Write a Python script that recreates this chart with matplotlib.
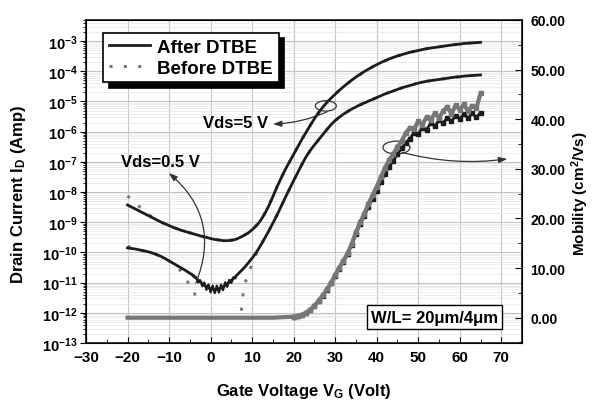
import matplotlib
matplotlib.use('Agg')
import matplotlib.pyplot as plt
import numpy as np
from matplotlib.patches import Ellipse
from matplotlib.ticker import LogLocator, FuncFormatter, MultipleLocator, NullFormatter, FormatStrFormatter

plt.rcParams['font.family'] = ['Liberation Sans', 'DejaVu Sans']
plt.rcParams['font.weight'] = 'bold'
plt.rcParams['mathtext.fontset'] = 'custom'
plt.rcParams['mathtext.rm'] = 'Liberation Sans:bold'
plt.rcParams['mathtext.bf'] = 'Liberation Sans:bold'
plt.rcParams['mathtext.it'] = 'Liberation Sans:bold'

# gate voltage sweep (V), 1 V steps
vg = np.arange(-20, 66, 1)

# log10 of drain current, after DTBE
log_id_after_5v = [
    -8.43, -8.50, -8.57, -8.64, -8.71, -8.78, -8.85, -8.92, -8.99, -9.05,
    -9.11, -9.17, -9.22, -9.27, -9.31, -9.35, -9.39, -9.43, -9.47, -9.50,
    -9.54, -9.57, -9.59, -9.61, -9.61, -9.60, -9.57, -9.51, -9.44, -9.36,
    -9.25, -9.12, -8.95, -8.73, -8.46, -8.15, -7.83, -7.53, -7.25, -7.00,
    -6.75, -6.50, -6.25, -6.02, -5.79, -5.57, -5.37, -5.19, -5.03, -4.89,
    -4.76, -4.63, -4.51, -4.40, -4.29, -4.19, -4.10, -4.01, -3.93, -3.85,
    -3.78, -3.71, -3.65, -3.59, -3.54, -3.49, -3.45, -3.41, -3.37, -3.34,
    -3.31, -3.28, -3.25, -3.23, -3.21, -3.19, -3.17, -3.15, -3.13, -3.11,
    -3.10, -3.08, -3.07, -3.06, -3.05, -3.04]
log_id_after_05v = [
    -9.85, -9.87, -9.89, -9.92, -9.95, -9.98, -10.02, -10.07, -10.13, -10.20,
    -10.28, -10.36, -10.44, -10.52, -10.60, -10.69, -10.78, -10.92, -11.03, -11.13,
    -11.20, -11.23, -11.21, -11.14, -11.04, -10.93, -10.80, -10.66, -10.52, -10.36,
    -10.19, -10.00, -9.78, -9.54, -9.29, -9.03, -8.76, -8.47, -8.18, -7.90,
    -7.62, -7.35, -7.08, -6.83, -6.62, -6.44, -6.27, -6.10, -5.93, -5.77,
    -5.63, -5.52, -5.42, -5.33, -5.25, -5.18, -5.11, -5.05, -4.99, -4.93,
    -4.87, -4.81, -4.75, -4.70, -4.65, -4.60, -4.55, -4.51, -4.47, -4.43,
    -4.39, -4.36, -4.33, -4.31, -4.29, -4.27, -4.25, -4.23, -4.21, -4.19,
    -4.18, -4.16, -4.15, -4.14, -4.13, -4.12]

# noisy stretch near the minimum of the Vds=0.5 V curve
vg_noise = [-4.5, -4.0, -3.5, -3.0, -2.5, -2.0, -1.5, -1.0, -0.5, 0.0, 0.5,
            1.0, 1.5, 2.0, 2.5, 3.0, 3.5, 4.0, 4.5, 5.0, 5.5, 6.0]
log_id_noise = [-10.72, -10.82, -10.82, -10.99, -10.92, -11.12, -11.00, -11.24,
                -11.06, -11.32, -11.10, -11.35, -11.10, -11.33, -11.07, -11.25,
                -10.99, -11.14, -10.91, -11.01, -10.82, -10.85]

# before DTBE
vg_before_5v = np.arange(-20, 66, 2)
log_id_before_5v = [
    -8.13, -8.38, -8.62, -8.84, -8.99, -9.11, -9.22, -9.31, -9.39, -9.47,
    -9.54, -9.59, -9.61, -9.57, -9.44, -9.25, -8.95, -8.46, -7.83, -7.25,
    -6.75, -6.25, -5.79, -5.37, -5.03, -4.76, -4.51, -4.29, -4.10, -3.93,
    -3.78, -3.65, -3.54, -3.45, -3.37, -3.31, -3.25, -3.21, -3.17, -3.13,
    -3.10, -3.07, -3.05]
vg_before_05v = [-20, -18, -16, -14, -12, -10, -8, -5.8, -4.2, -3.8, -3.55,
                 2, 7.4, 7.7, 8.2, 9.4, 10.7, 12, 14, 16, 18, 20, 22, 24, 26,
                 28, 30, 32, 34, 36, 38, 40, 42, 44, 46, 48, 50, 52, 54, 56,
                 58, 60, 62, 64]
log_id_before_05v = [
    -9.80, -9.88, -9.95, -10.02, -10.13, -10.28, -10.44, -10.94, -11.16, -11.38,
    -11.60, np.nan, -11.93, -11.49, -11.05, -10.60, -10.12, -9.78, -9.29, -8.76,
    -8.18, -7.62, -7.08, -6.62, -6.27, -5.93, -5.63, -5.42, -5.25, -5.11,
    -4.99, -4.87, -4.75, -4.65, -4.55, -4.47, -4.39, -4.33, -4.29, -4.25,
    -4.21, -4.18, -4.15, -4.13]

# field-effect mobility (cm2/Vs)
vg_mob = [-20, -15, -10, -5, 0, 5, 10, 15, 20, 21, 22, 23, 24, 25, 26, 27, 28,
          29, 30, 31, 32, 33, 34, 35, 36, 37, 38, 39, 40, 41, 42, 43, 44, 45,
          46, 47, 48, 49, 50, 51, 52, 53, 54, 55, 56, 57, 58, 59, 60, 61, 62,
          63, 64, 65]
mob_after = [0, 0, 0, 0, 0, 0, 0, 0,
             0.2, 0.35, 0.6, 1.0, 1.5, 2.3, 3.3, 4.4, 5.6, 6.9,
             8.4, 9.9, 11.3, 12.8, 14.6, 16.8, 18.8, 20.4, 22.3, 24.0,
             25.6, 27.3, 29.0, 30.4, 31.6, 33.0, 34.1, 35.3, 36.1, 37.3,
             37.0, 38.3, 37.9, 39.2, 38.6, 39.8, 39.2, 40.3, 39.6, 40.7,
             40.1, 41.0, 40.2, 41.2, 40.4, 41.3]
mob_before = [0, 0, 0, 0, 0, 0, 0, 0,
              0.2, 0.35, 0.6, 1.0, 1.6, 2.4, 3.4, 4.5, 5.7, 7.0,
              8.6, 10.1, 11.5, 13.0, 14.9, 17.2, 19.2, 20.9, 22.9, 24.7,
              26.4, 28.3, 30.2, 31.8, 33.0, 34.4, 35.6, 37.2, 38.3, 38.0,
              39.6, 38.9, 40.4, 39.8, 41.2, 40.3, 41.6, 42.5, 41.1, 42.8,
              41.9, 43.0, 41.6, 42.7, 42.2, 45.2]

dark = '#1c1c1c'
grey = '#777777'

fig = plt.figure(figsize=(5.92, 4.02), dpi=100)
ax = fig.add_axes([0.1453, 0.1443, 0.7365, 0.8035])
ax2 = ax.twinx()

# drain current
dots = (0, (1, 3.7))
lb, = ax.plot(vg_before_5v, 10.0 ** np.array(log_id_before_5v), color=grey, lw=2.2, ls=dots,
              label='Before DTBE')
ax.plot(vg_before_05v, 10.0 ** np.array(log_id_before_05v), color=grey, lw=2.2, ls=dots)
la, = ax.plot(vg, 10.0 ** np.array(log_id_after_5v), color=dark, lw=2, label='After DTBE')
ax.plot(vg, 10.0 ** np.array(log_id_after_05v), color=dark, lw=2)
ax.plot(vg_noise, 10.0 ** np.array(log_id_noise), color=dark, lw=1.6)

ax.set_yscale('log')
ax.set_xlim(-30, 75)
ax.set_ylim(1e-13, 10 ** -2.3)
ax.xaxis.set_major_locator(MultipleLocator(10))
ax.xaxis.set_minor_locator(MultipleLocator(5))
ax.yaxis.set_major_locator(LogLocator(base=10, numticks=20))
ax.yaxis.set_minor_locator(LogLocator(base=10, subs=np.arange(2, 10), numticks=20))
ax.yaxis.set_minor_formatter(NullFormatter())
ax.yaxis.set_major_formatter(FuncFormatter(lambda v, p: r'$\mathbf{10^{%d}}$' % round(np.log10(v))))
ax.tick_params(axis='x', which='both', direction='in', labelsize=11, pad=5)
ax.tick_params(axis='x', which='major', length=4)
ax.tick_params(axis='x', which='minor', length=3)
ax.tick_params(axis='y', which='major', direction='out', length=4, labelsize=10.5, pad=2)
ax.tick_params(axis='y', which='minor', direction='out', length=2.5)
ax.grid(True, which='major', axis='both', color='#c4c4c4', lw=0.8)
ax.grid(True, which='minor', axis='y', color='#e6e6e6', lw=0.5)
ax.set_axisbelow(True)
for s in ax.spines.values():
    s.set_linewidth(1.1)

ax.set_xlabel('Gate Voltage V$_\\mathbf{G}$ (Volt)', fontsize=12, fontweight='bold')
ax.xaxis.set_label_coords(0.5, -0.118)
ax.set_ylabel('Drain Current I$_\\mathbf{D}$ (Amp)', fontsize=12, fontweight='bold')
ax.yaxis.set_label_coords(-0.132, 0.464)

# mobility: thick line for the flat part, squares where it rises
ax2.plot(vg_mob, mob_after, color=dark, lw=2, marker='s', ms=3.2, mec=dark,
         markevery=slice(8, None))
ax2.plot(vg_mob, mob_before, color=grey, lw=3, marker='s', ms=3.2, mec=grey,
         markevery=slice(8, None))
ax2.set_ylim(-5.1, 60)
ax2.yaxis.set_major_locator(MultipleLocator(10))
ax2.yaxis.set_minor_locator(MultipleLocator(5))
ax2.yaxis.set_major_formatter(FormatStrFormatter('%.2f'))
ax2.tick_params(axis='y', which='major', direction='in', length=5, labelsize=10, pad=6)
ax2.tick_params(axis='y', which='minor', direction='in', length=3)
ax2.set_ylabel('Mobility (cm$^\\mathbf{2}$/Vs)', fontsize=11, fontweight='bold')
ax2.yaxis.set_label_coords(1.108, 0.464)

leg = ax.legend(handles=[la, lb], loc='upper left', bbox_to_anchor=(0.039, 0.960),
                borderaxespad=0, fontsize=13.5, frameon=True, fancybox=False,
                shadow={'color': 'black', 'alpha': 1, 'ox': 4, 'oy': -4},
                handlelength=2.2, handletextpad=0.4, labelspacing=0.2, borderpad=0.3)
leg.get_frame().set_edgecolor('black')
leg.get_frame().set_linewidth(1.2)
leg.get_frame().set_alpha(1)

# annotations
tr = ax2.transAxes
ax2.text(0.344, 0.684, 'Vds=5 V', transform=tr, fontsize=12, fontweight='bold',
         ha='center', va='center')
ax2.add_patch(Ellipse((0.550, 0.734), 0.048, 0.032, transform=tr, fill=False,
                      ec='#333333', lw=0.9))
ax2.annotate('', xy=(0.429, 0.678), xytext=(0.553, 0.716), xycoords=tr, textcoords=tr,
             arrowprops=dict(arrowstyle='-|>,head_length=0.5,head_width=0.18', color='#333333',
                             lw=0.9, connectionstyle='arc3,rad=-0.1', shrinkA=0, shrinkB=0))

ax2.text(0.170, 0.563, 'Vds=0.5 V', transform=tr, fontsize=12, fontweight='bold',
         ha='center', va='center')
ax2.annotate('', xy=(0.190, 0.526), xytext=(0.252, 0.186), xycoords=tr, textcoords=tr,
             arrowprops=dict(arrowstyle='-|>,head_length=0.5,head_width=0.18', color='#333333',
                             lw=0.9, connectionstyle='arc3,rad=0.36', shrinkA=0, shrinkB=0))

ax2.add_patch(Ellipse((0.712, 0.605), 0.062, 0.040, transform=tr, fill=False,
                      ec='#333333', lw=0.9))
ax2.annotate('', xy=(0.966, 0.570), xytext=(0.725, 0.590), xycoords=tr, textcoords=tr,
             arrowprops=dict(arrowstyle='-|>,head_length=0.5,head_width=0.18', color='#333333',
                             lw=0.9, connectionstyle='arc3,rad=0.1', shrinkA=0, shrinkB=0))

ax2.text(0.800, 0.080, 'W/L= 20\u03bcm/4\u03bcm', transform=tr, fontsize=12, fontweight='bold',
         ha='center', va='center',
         bbox=dict(boxstyle='square,pad=0.25', fc='white', ec='black', lw=1))

fig.savefig('out.png', dpi=100)
